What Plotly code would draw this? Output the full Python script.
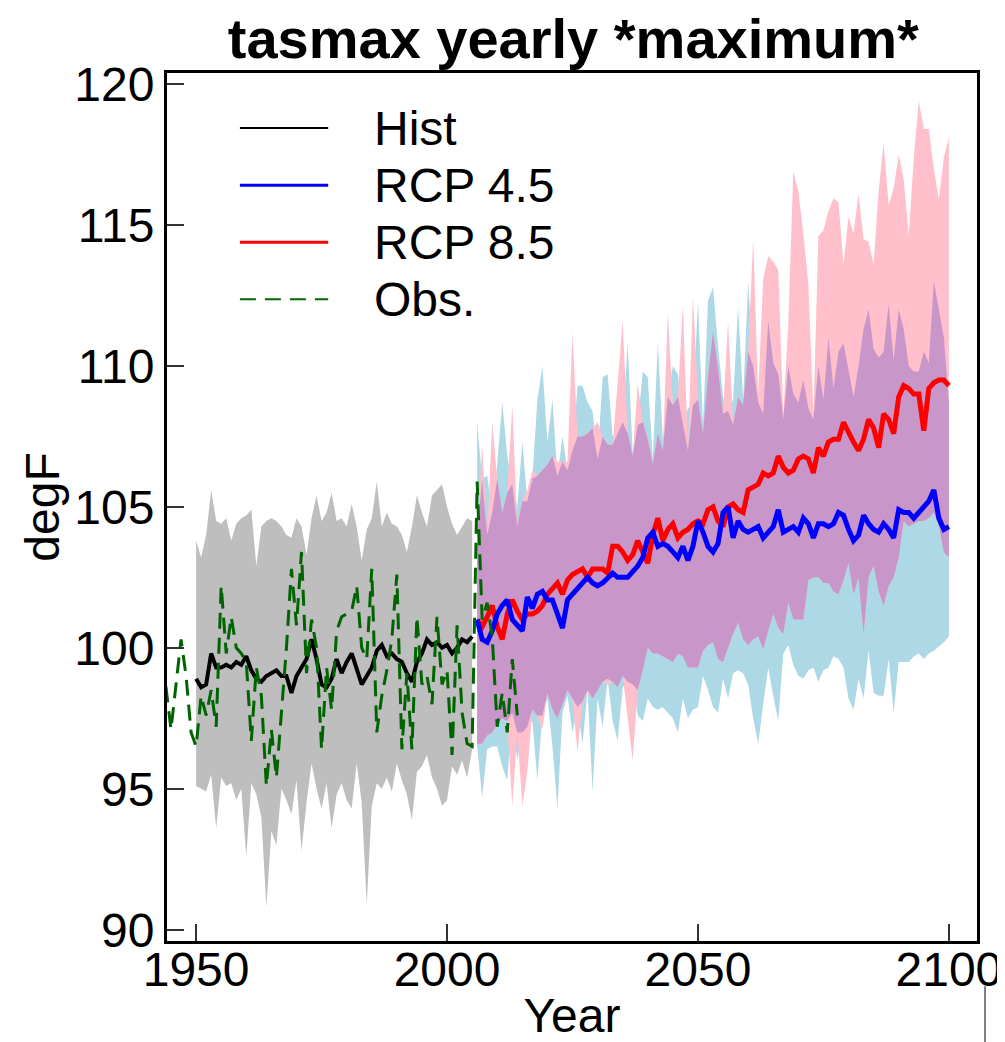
import numpy as np
import plotly.graph_objects as go

# years
hist_years = list(range(1950, 2006))
rcp_years = list(range(2006, 2101))
obs_years = list(range(1943, 2015))

# historical ensemble (mean, max, min)
hist_mean = [98.9, 98.6, 98.7, 99.8, 99.3, 99.3, 99.4, 99.3, 99.5, 99.4,
             99.7, 99.2, 98.9, 98.8, 99.0, 99.1, 99.2, 99.0, 99.0, 98.4,
             99.0, 99.3, 99.6, 100.3, 99.6, 98.7, 98.6, 98.9, 99.6, 99.1,
             99.5, 99.8, 99.2, 98.7, 99.0, 99.3, 99.9, 100.1, 99.7, 99.8,
             99.6, 99.5, 99.1, 98.8, 99.5, 99.8, 100.3, 100.1, 100.2, 100.0,
             100.1, 99.8, 100.0, 100.3, 100.2, 100.4]
hist_hi = [103.8, 103.2, 104.0, 105.6, 104.5, 104.4, 104.6, 103.8, 104.4, 104.6,
           104.7, 104.9, 102.9, 104.3, 104.5, 104.6, 104.5, 104.3, 104.0, 103.9,
           104.6, 104.3, 103.3, 104.6, 105.4, 104.5, 104.8, 105.5, 104.5, 104.6,
           104.3, 105.1, 104.3, 103.1, 104.2, 104.6, 105.9, 104.3, 104.8, 104.4,
           104.3, 104.0, 103.4, 104.3, 105.4, 104.8, 104.3, 105.4, 105.6, 105.8,
           105.0, 104.4, 104.0, 104.3, 104.6, 104.5]
hist_lo = [95.1, 95.0, 94.9, 95.5, 93.6, 95.4, 95.1, 95.2, 94.6, 95.0,
           92.6, 95.2, 94.8, 94.0, 90.8, 93.5, 93.0, 95.0, 94.6, 94.1,
           95.3, 92.8, 94.5, 95.9, 95.0, 94.3, 95.2, 93.6, 94.8, 95.2,
           94.6, 94.3, 95.9, 94.5, 90.9, 94.4, 95.2, 95.0, 95.4, 94.9,
           95.9, 95.3, 94.8, 93.9, 95.6, 95.8, 96.2, 95.4, 95.0, 94.4,
           94.6, 95.8, 95.5, 96.0, 95.4, 96.4]

# RCP 4.5 ensemble
rcp45_mean = [101.0, 100.3, 100.2, 100.6, 101.2, 101.5, 101.7, 101.0, 100.8, 100.6,
              101.8, 101.4, 101.9, 102.0, 101.7, 101.7, 101.2, 100.7, 101.7, 101.9,
              102.1, 102.3, 102.5, 102.3, 102.2, 102.3, 102.5, 102.65, 102.5, 102.5,
              102.5, 102.7, 102.9, 103.2, 103.9, 104.1, 103.6, 103.7, 103.6, 103.4,
              103.2, 103.6, 103.1, 103.6, 104.5, 104.1, 103.6, 103.4, 103.7, 104.8,
              105.0, 103.9, 104.5, 104.2, 104.1, 104.2, 104.3, 103.9, 104.1, 104.3,
              104.9, 104.1, 104.2, 104.3, 104.1, 104.6, 104.4, 103.9, 104.4, 104.4,
              104.3, 104.4, 104.8, 104.7, 104.2, 103.8, 104.0, 104.7, 104.4, 104.2,
              104.1, 104.4, 104.2, 103.9, 104.9, 104.8, 104.8, 104.6, 104.8, 105.0,
              105.2, 105.6, 104.6, 104.2, 104.3]
rcp45_hi = [108.0, 106.0, 106.1, 104.8, 106.5, 108.7, 106.8, 105.8, 105.0, 107.3,
            105.2, 106.0, 108.8, 110.0, 107.3, 108.8, 106.1, 107.5, 106.3, 107.0,
            109.3, 109.3, 108.7, 108.4, 106.7, 109.6, 109.7, 107.5, 107.6, 108.0,
            110.8, 106.9, 107.9, 109.8, 109.6, 106.7, 110.8, 107.4, 108.9, 110.0,
            109.7, 108.0, 108.5, 108.6, 112.3, 107.9, 112.3, 112.8, 110.7, 108.9,
            108.4, 108.8, 112.1, 108.8, 113.0, 110.0, 108.7, 108.3, 111.6, 110.1,
            109.7, 108.1, 110.0, 109.0, 108.7, 109.5, 108.5, 108.1, 110.0, 108.8,
            111.0, 109.2, 110.5, 110.8, 109.8, 108.9, 110.0, 111.3, 112.0, 110.6,
            110.3, 110.5, 112.2, 110.2, 112.0, 111.3, 110.0, 109.8, 109.8, 110.5,
            110.1, 113.0, 112.0, 111.0, 108.7]
rcp45_lo = [96.5, 94.7, 96.4, 96.5, 96.5, 95.8, 95.3, 97.7, 96.0, 97.0,
            97.2, 97.4, 95.3, 97.6, 98.2, 96.5, 94.3, 97.7, 98.3, 97.0,
            97.9, 96.6, 98.5, 94.9, 98.2, 97.2, 98.9, 97.4, 96.7, 98.6,
            98.8, 98.7, 97.6, 97.4, 98.2, 97.9, 97.8, 97.9, 97.7, 97.5,
            97.0, 98.2, 97.5, 97.8, 97.9, 99.0, 98.5, 97.9, 97.7, 98.9,
            98.2, 99.1, 99.2, 99.1, 98.7, 97.5, 96.6, 98.0, 99.3, 98.3,
            97.4, 99.8, 100.1, 99.4, 99.0, 98.9, 99.2, 99.3, 98.8, 99.2,
            99.3, 99.7, 99.6, 99.3, 98.2, 97.8, 98.9, 98.2, 99.9, 98.4,
            98.3, 98.3, 99.6, 97.7, 99.5, 99.5, 99.5, 99.7, 99.8, 99.6,
            99.8, 99.9, 100.05, 100.2, 100.4]

# RCP 8.5 ensemble
rcp85_mean = [101.0, 100.75, 101.1, 101.5, 100.75, 100.3, 101.2, 101.7, 101.3, 101.0,
              101.2, 101.2, 101.3, 101.5, 101.9, 102.1, 102.3, 101.9, 102.4, 102.6,
              102.7, 102.8, 102.5, 102.8, 102.8, 102.8, 102.65, 103.6, 103.6, 103.4,
              103.1, 103.3, 103.8, 103.4, 103.0, 104.0, 104.6, 103.8, 104.2, 104.4,
              103.9, 104.1, 104.2, 104.4, 104.5, 104.4, 104.9, 105.0, 104.5, 104.3,
              105.0, 105.1, 104.9, 104.8, 105.6, 105.7, 105.8, 106.2, 106.1, 106.2,
              106.8, 106.4, 106.2, 106.3, 106.7, 106.8, 106.7, 106.2, 107.1, 106.8,
              107.3, 107.4, 107.4, 108.0, 107.6, 107.3, 107.0, 107.4, 108.1, 107.8,
              107.1, 108.3, 108.1, 107.6, 108.9, 109.3, 109.2, 109.0, 109.0, 107.7,
              109.2, 109.4, 109.5, 109.5, 109.3]
rcp85_hi = [104.0, 107.2, 104.0, 108.0, 106.0, 104.8, 105.5, 108.6, 104.3, 105.2,
            105.6, 106.3, 106.1, 106.3, 106.5, 106.8, 106.6, 106.6, 106.6, 111.2,
            107.5, 107.5, 107.6, 107.8, 108.0, 107.5, 107.2, 107.2, 109.5, 111.6,
            107.6, 106.8, 109.4, 108.0, 107.4, 106.5, 107.6, 107.0, 111.9, 108.6,
            108.9, 112.2, 107.0, 112.5, 108.8, 107.6, 109.6, 111.2, 109.9, 108.3,
            111.6, 107.9, 108.9, 108.6, 110.5, 114.5, 109.0, 113.1, 113.9, 113.7,
            113.4, 108.3, 111.5, 116.9, 116.2, 114.7, 112.9, 108.3, 114.6, 114.8,
            115.5, 115.95, 115.8, 113.6, 115.3, 114.7, 116.1, 114.5, 114.4, 113.6,
            116.2, 117.9, 115.7, 116.3, 117.5, 116.6, 114.6, 117.4, 119.4, 118.4,
            118.4, 117.0, 115.9, 117.4, 118.1]
rcp85_lo = [96.6, 96.6, 96.9, 97.0, 97.3, 97.5, 97.4, 94.4, 97.0, 94.4,
            95.6, 97.8, 97.6, 97.1, 98.4, 97.8, 97.5, 98.0, 98.5, 98.2,
            96.3, 98.1, 98.4, 98.2, 98.5, 98.8, 98.7, 98.8, 98.6, 99.0,
            97.5, 96.0, 98.5, 99.2, 100.0, 99.8, 99.8, 99.7, 99.6, 99.5,
            99.8, 99.7, 99.3, 99.3, 99.3, 99.9, 100.1, 100.2, 99.6, 99.5,
            100.0, 100.5, 100.9, 100.3, 100.1, 100.3, 100.4, 99.95, 100.6, 101.2,
            100.7, 100.5, 101.6, 101.0, 101.0, 101.0, 102.4, 102.5, 102.5, 102.3,
            102.3, 102.0, 101.9, 102.4, 103.0, 101.9, 102.5, 100.5, 102.5, 102.9,
            102.0, 101.5, 102.2, 102.5, 103.2, 104.5, 104.3, 104.4, 104.5, 104.5,
            104.6, 104.8, 104.3, 103.4, 103.2]

# observations
obs = [99.5, 98.6, 97.1, 98.8, 100.3, 99.0, 97.0, 96.5, 98.3, 97.6,
       98.5, 97.2, 102.2, 99.8, 101.1, 100.0, 99.8, 99.5, 96.7, 99.3,
       98.3, 95.1, 97.1, 95.4, 97.8, 100.0, 102.8, 100.8, 103.4, 99.1,
       101.0, 100.0, 96.4, 99.3, 97.8, 100.6, 101.1, 101.2, 101.3, 102.2,
       100.0, 99.6, 102.8, 97.0, 98.3, 99.2, 100.3, 102.6, 96.4, 99.1,
       96.4, 101.1, 98.7, 99.0, 98.0, 101.1, 98.7, 99.2, 96.2, 100.8,
       97.7, 96.6, 96.5, 105.9, 101.0, 101.6, 100.4, 97.2, 98.4, 97.0,
       99.6, 97.6]

legend_names = ["Hist", "RCP 4.5", "RCP 8.5", "Obs."]

FONT = "Liberation Sans, Arial, Helvetica, sans-serif"


def band(x, hi, lo, color):
    xs = list(x) + list(x)[::-1]
    ys = list(hi) + list(lo)[::-1]
    return go.Scatter(x=xs, y=ys, fill="toself", fillcolor=color, mode="lines",
                      line=dict(width=0, color=color), hoverinfo="skip", showlegend=False)


ov_hi = np.minimum(rcp45_hi, rcp85_hi)
ov_lo = np.maximum(rcp45_lo, rcp85_lo)

fig = go.Figure()
fig.add_trace(band(hist_years, hist_hi, hist_lo, "#bebebe"))
fig.add_trace(band(rcp_years, rcp45_hi, rcp45_lo, "#add8e6"))
fig.add_trace(band(rcp_years, rcp85_hi, rcp85_lo, "#ffc0cb"))
fig.add_trace(band(rcp_years, ov_hi, ov_lo, "#c896c8"))

fig.add_trace(go.Scatter(x=hist_years, y=hist_mean, mode="lines", name="Hist",
                         line=dict(color="black", width=4), showlegend=False))
fig.add_trace(go.Scatter(x=rcp_years, y=rcp85_mean, mode="lines", name="RCP 8.5",
                         line=dict(color="red", width=5), showlegend=False))
fig.add_trace(go.Scatter(x=rcp_years, y=rcp45_mean, mode="lines", name="RCP 4.5",
                         line=dict(color="blue", width=5), showlegend=False))
fig.add_trace(go.Scatter(x=obs_years, y=obs, mode="lines", name="Obs.",
                         line=dict(color="#006400", width=3, dash="16px,9px"), showlegend=False))

# hand-drawn legend (long line samples like the original)
leg_colors = ["black", "blue", "red", "#006400"]
leg_widths = [2, 3, 3, 2]
leg_dash = ["solid", "solid", "solid", "16px,9px"]
leg_y = [0.9366, 0.8708, 0.8051, 0.7393]
for name, c, w, d, yy in zip(legend_names, leg_colors, leg_widths, leg_dash, leg_y):
    fig.add_shape(type="line", xref="paper", yref="paper", x0=0.090, x1=0.199, y0=yy, y1=yy,
                  line=dict(color=c, width=w, dash=d))
    fig.add_annotation(text=name, xref="paper", yref="paper", x=0.253, y=yy, xanchor="left",
                       yanchor="middle", showarrow=False, font=dict(size=48, color="black", family=FONT))

# stray frame edge at bottom right
fig.add_shape(type="line", xref="paper", yref="paper", x0=1.0099, x1=1.0099, y0=-0.052, y1=-0.12,
              line=dict(color="black", width=1))

axis_common = dict(showgrid=False, zeroline=False, showline=True, mirror=True,
                   linecolor="black", linewidth=3, ticks="inside", ticklen=17, tickwidth=2,
                   tickcolor="#333333", tickfont=dict(size=48, family=FONT, color="black"),
                   automargin=False)

fig.update_xaxes(range=[1944.2, 2105.6], tickvals=[1950, 2000, 2050, 2100], ticklabelstandoff=-16,
                 title=dict(text="Year", font=dict(size=48, family=FONT, color="black"), standoff=18),
                 **axis_common)
fig.update_yaxes(range=[89.6, 120.39], tickvals=[90, 95, 100, 105, 110, 115, 120],
                 title=dict(text="degF", font=dict(size=48, family=FONT, color="black"), standoff=0),
                 **axis_common)

# page body adds ~8px offset, so figure is sized slightly smaller
fig.update_layout(
    width=997, height=1034,
    margin=dict(l=159, r=28, t=65, b=101),
    paper_bgcolor="white", plot_bgcolor="white",
    title=dict(text="<b>tasmax yearly *maximum*</b>", x=0.567, xanchor="center",
               y=0.971, yanchor="middle", yref="container",
               font=dict(size=56, family=FONT, color="black")),
    showlegend=False,
)

fig.write_html("out.html")
